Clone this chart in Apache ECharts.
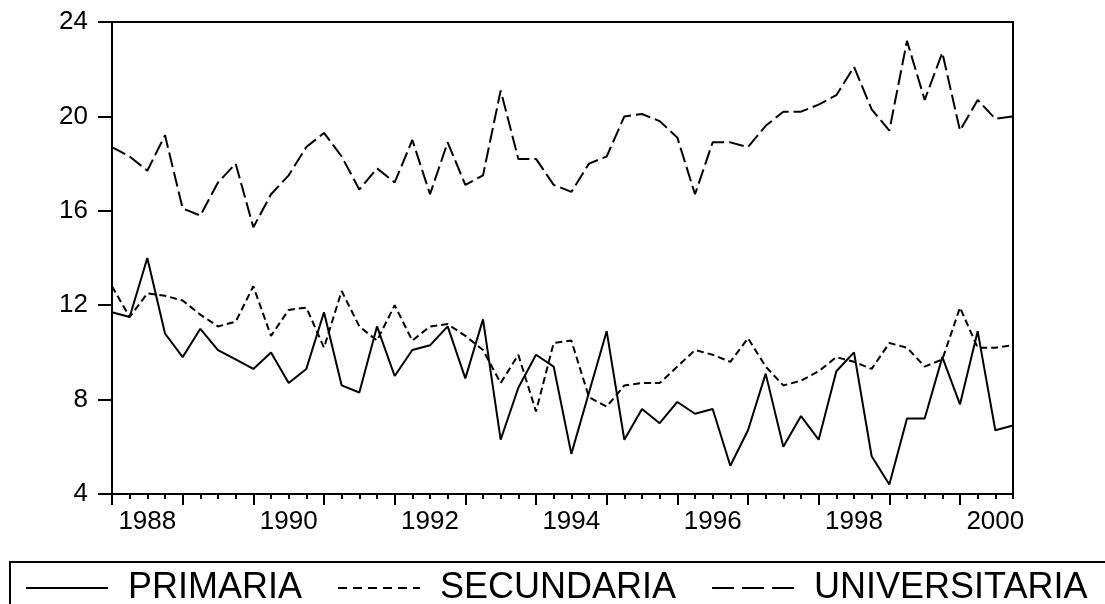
<!DOCTYPE html>
<html>
<head>
<meta charset="utf-8">
<title>Primaria / Secundaria / Universitaria</title>
<script src="https://cdn.jsdelivr.net/npm/echarts@6/dist/echarts.min.js"></script>
<style>
  html, body { margin: 0; padding: 0; background: #fff; }
  #chart { width: 1105px; height: 604px; }
</style>
</head>
<body>
<div id="chart"></div>
<script>
// años del eje (datos trimestrales 1988Q1 - 2000Q4)
const years = [1988, 1989, 1990, 1991, 1992, 1993, 1994, 1995, 1996, 1997, 1998, 1999, 2000]
const quarters = ['Q1', 'Q2', 'Q3', 'Q4']

// series
const primaria = [
  11.7, 11.5, 14.0, 10.8, 9.8, 11.0, 10.1, 9.7, 9.3, 10.0, 8.7, 9.3,
  11.7, 8.6, 8.3, 11.1, 9.0, 10.1, 10.3, 11.1, 8.9, 11.4, 6.3, 8.5,
  9.9, 9.4, 5.7, 8.3, 10.9, 6.3, 7.6, 7.0, 7.9, 7.4, 7.6, 5.2,
  6.7, 9.1, 6.0, 7.3, 6.3, 9.2, 10.0, 5.6, 4.4, 7.2, 7.2, 9.8,
  7.8, 10.9, 6.7, 6.9
]
const secundaria = [
  12.8, 11.5, 12.5, 12.4, 12.2, 11.6, 11.1, 11.3, 12.8, 10.7, 11.8, 11.9,
  10.2, 12.6, 11.1, 10.5, 12.0, 10.5, 11.1, 11.2, 10.7, 10.1, 8.7, 9.9,
  7.5, 10.4, 10.5, 8.1, 7.7, 8.6, 8.7, 8.7, 9.4, 10.1, 9.9, 9.6,
  10.6, 9.4, 8.6, 8.8, 9.2, 9.8, 9.6, 9.3, 10.4, 10.2, 9.4, 9.7,
  11.9, 10.2, 10.2, 10.3
]
const universitaria = [
  18.7, 18.3, 17.7, 19.2, 16.1, 15.8, 17.2, 18.0, 15.3, 16.7, 17.5, 18.7,
  19.3, 18.3, 16.9, 17.8, 17.2, 19.0, 16.7, 18.9, 17.1, 17.5, 21.1, 18.2,
  18.2, 17.1, 16.8, 18.0, 18.3, 20.0, 20.1, 19.8, 19.1, 16.7, 18.9, 18.9,
  18.7, 19.6, 20.2, 20.2, 20.5, 20.9, 22.1, 20.3, 19.4, 23.2, 20.7, 22.7,
  19.4, 20.7, 19.9, 20.0
]

// eje y
const yMin = 4
const yMax = 24
const yStep = 4

// categorías trimestrales
const periods = []
years.forEach(y => quarters.forEach(q => periods.push(y + q)))

const font = "'Liberation Sans', Arial, sans-serif"

let mycharts = echarts.init(document.getElementById('chart'))
mycharts.setOption({
  animation: false,
  backgroundColor: '#fff',
  grid: {
    left: 112,
    right: 92,
    top: 22,
    bottom: 110,
    //marco alrededor del gráfico
    show: true,
    borderColor: '#000',
    borderWidth: 2,
    backgroundColor: 'transparent'
  },
  legend: {
    left: 10,
    top: 562,
    width: 1200,
    padding: [8, 40, 40, 15],
    borderColor: '#000',
    borderWidth: 2,
    itemWidth: 82,
    itemHeight: 14,
    itemGap: 35,
    //ocultar el círculo del símbolo, queda solo la línea
    itemStyle: { opacity: 0 },
    textStyle: {
      fontFamily: font,
      fontSize: 36,
      color: '#000',
      padding: [0, 0, 0, 15]
    },
    data: [
      { name: 'PRIMARIA' },
      { name: 'SECUNDARIA', lineStyle: { type: [9, 6] } },
      { name: 'UNIVERSITARIA', lineStyle: { type: [22, 8] } }
    ]
  },
  xAxis: [
    {
      // ticks menores y etiquetas
      type: 'category',
      position: 'bottom',
      data: periods,
      boundaryGap: false,
      axisLine: { show: true, lineStyle: { color: '#000', width: 2 } },
      axisTick: {
        show: true,
        interval: 0,
        length: 5,
        lineStyle: { color: '#000', width: 2 }
      },
      axisLabel: {
        show: true,
        //una etiqueta cada dos años, centrada en el año
        interval: function (index) {
          return index % 8 === 2
        },
        formatter: function (value) {
          return value.slice(0, 4)
        },
        margin: 15,
        fontFamily: font,
        fontSize: 26,
        color: '#000'
      },
      splitLine: { show: false }
    },
    {
      // ticks mayores (inicio de cada año)
      type: 'category',
      position: 'bottom',
      data: periods,
      boundaryGap: false,
      axisLine: { show: false },
      axisTick: {
        show: true,
        interval: function (index) {
          return index % 4 === 0
        },
        length: 11,
        lineStyle: { color: '#000', width: 2 }
      },
      axisLabel: { show: false },
      splitLine: { show: false }
    }
  ],
  yAxis: {
    type: 'value',
    min: yMin,
    max: yMax,
    interval: yStep,
    axisLine: { show: true, lineStyle: { color: '#000', width: 2 } },
    axisTick: { show: true, length: 14, lineStyle: { color: '#000', width: 2 } },
    axisLabel: {
      margin: 24,
      fontFamily: font,
      fontSize: 26,
      color: '#000'
    },
    splitLine: { show: false }
  },
  series: [
    {
      name: 'PRIMARIA',
      type: 'line',
      xAxisIndex: 0,
      data: primaria,
      symbol: 'none',
      color: '#000',
      lineStyle: { color: '#000', width: 2, type: 'solid' }
    },
    {
      name: 'SECUNDARIA',
      type: 'line',
      xAxisIndex: 0,
      data: secundaria,
      symbol: 'none',
      color: '#000',
      lineStyle: { color: '#000', width: 2, type: [7, 4] }
    },
    {
      name: 'UNIVERSITARIA',
      type: 'line',
      xAxisIndex: 0,
      data: universitaria,
      symbol: 'none',
      color: '#000',
      lineStyle: { color: '#000', width: 2, type: [15, 5] }
    }
  ]
})
</script>
</body>
</html>
